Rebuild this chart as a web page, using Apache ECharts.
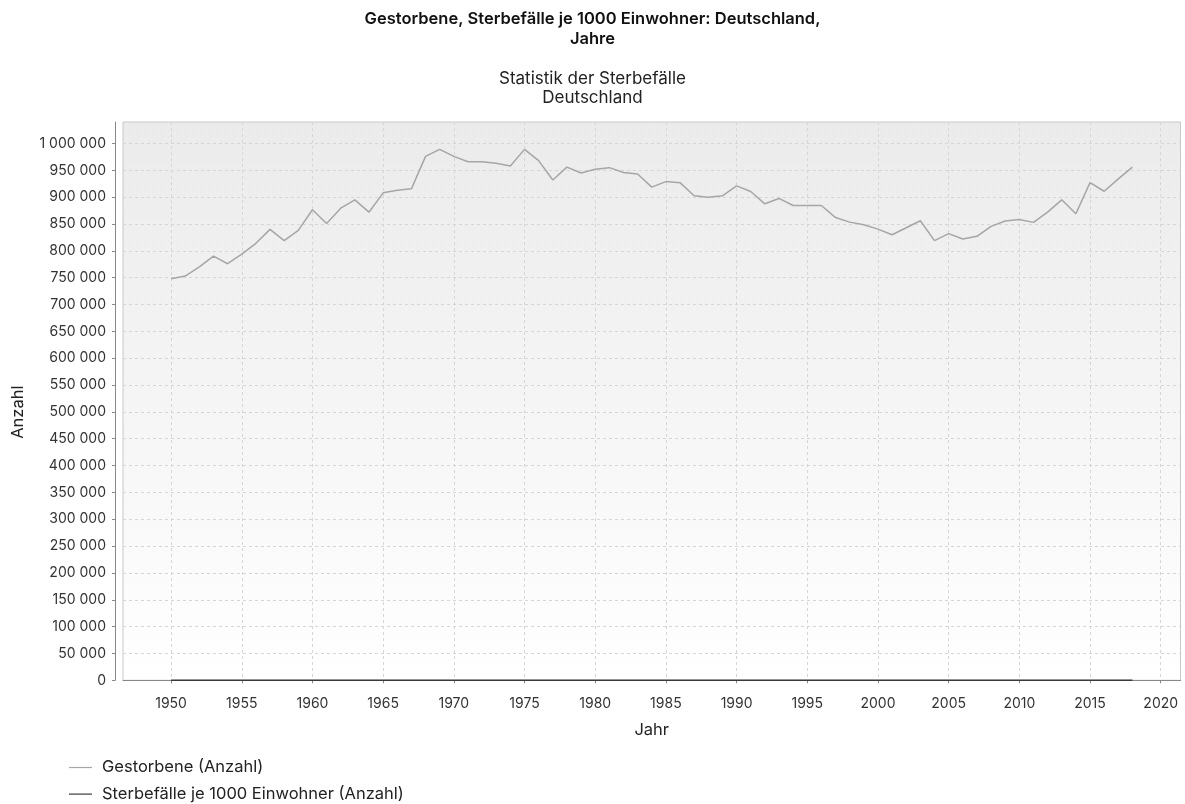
<!DOCTYPE html>
<html>
<head>
<meta charset="utf-8">
<script src="https://cdn.jsdelivr.net/npm/echarts@6/dist/echarts.min.js"></script>
<style>
html,body{margin:0;padding:0;background:#fff;}
#chart{width:1185px;height:804px;}
</style>
</head>
<body>
<div id="chart"></div>
<script>
const years = [1950,1951,1952,1953,1954,1955,1956,1957,1958,1959,
  1960,1961,1962,1963,1964,1965,1966,1967,1968,1969,
  1970,1971,1972,1973,1974,1975,1976,1977,1978,1979,
  1980,1981,1982,1983,1984,1985,1986,1987,1988,1989,
  1990,1991,1992,1993,1994,1995,1996,1997,1998,1999,
  2000,2001,2002,2003,2004,2005,2006,2007,2008,2009,
  2010,2011,2012,2013,2014,2015,2016,2017,2018];
const gestorbene = [748000,753000,770000,790000,776000,794000,814000,840000,819000,838000,
  876500,851000,879500,895000,872000,908000,913000,915500,976000,989000,
  976000,966000,966000,963000,958000,989000,968000,932000,956000,945000,
  952000,955000,946000,943000,918600,929000,927000,902500,900000,902500,
  921000,910600,887600,897600,884500,884500,884500,862000,853500,848500,
  840500,830000,843000,856000,819000,832000,822000,827000,845500,855500,
  858500,853000,872000,895000,869000,927000,911000,934000,956000];
const sterbefaelleJe1000 = [10.5,10.8,10.7,11.3,10.9,11.1,11.3,11.6,11.0,11.0,
  11.6,11.2,11.4,11.5,11.0,11.5,11.5,11.5,12.2,12.4,
  12.1,11.9,11.8,11.7,11.6,12.1,11.8,11.3,11.6,11.4,
  11.6,11.6,11.6,11.7,11.3,11.5,11.5,11.2,11.2,11.4,
  11.6,11.4,11.0,11.1,10.9,10.8,10.8,10.5,10.4,10.3,
  10.2,10.1,10.2,10.4,9.9,10.1,10.0,10.1,10.3,10.4,
  10.5,10.6,10.8,11.1,10.7,11.3,11.1,11.3,11.5];
const xTicks = [1950,1955,1960,1965,1970,1975,1980,1985,1990,1995,2000,2005,2010,2015,2020];
const yTicks = [0,50000,100000,150000,200000,250000,300000,350000,400000,450000,500000,
  550000,600000,650000,700000,750000,800000,850000,900000,950000,1000000];
const seriesNames = ['Gestorbene (Anzahl)','Sterbefälle je 1000 Einwohner (Anzahl)'];

const FONT = 'Inter';
const chart = echarts.init(document.getElementById('chart'));
const fmt = v => String(Math.round(v)).replace(/\B(?=(\d{3})+(?!\d))/g, ' ');

chart.setOption({
  animation: false,
  backgroundColor: '#ffffff',
  title: {
    text: 'Gestorbene, Sterbefälle je 1000 Einwohner: Deutschland,\nJahre',
    subtext: 'Statistik der Sterbefälle\nDeutschland',
    left: 'center', top: 9, padding: 0, itemGap: 20,
    textStyle: {fontFamily: FONT, fontWeight: 600, fontSize: 16.5, lineHeight: 20, color: '#111'},
    subtextStyle: {fontFamily: FONT, fontSize: 17, lineHeight: 19.5, color: '#222'}
  },
  legend: {
    orient: 'vertical', left: 69, top: 758.5, padding: 0,
    icon: 'rect',
    itemWidth: 23, itemHeight: 1.2, itemGap: 8.6,
    textStyle: {fontFamily: FONT, fontSize: 16.5, lineHeight: 18, color: '#222', padding: [0,0,0,5]},
    data: seriesNames
  },
  grid: {
    left: 123, top: 122, right: 4.5, bottom: 123.7,
    show: true,
    backgroundColor: {type: 'linear', x: 0, y: 0, x2: 0, y2: 1,
      colorStops: [{offset: 0, color: '#ebebeb'}, {offset: 1, color: '#ffffff'}]},
    borderColor: '#c8c8c8', borderWidth: 1
  },
  xAxis: {
    type: 'value', min: 1946.6, max: 2021.4, offset: 7,
    name: 'Jahr', nameLocation: 'middle', nameGap: 34,
    nameTextStyle: {fontFamily: FONT, fontSize: 16.5, color: '#222'},
    axisLine: {show: true, lineStyle: {color: '#888', width: 1}},
    axisTick: {show: true, length: 3, customValues: xTicks, lineStyle: {color: '#888'}},
    axisLabel: {customValues: xTicks, fontFamily: FONT, fontSize: 14, color: '#333', margin: 9,
      formatter: v => String(v)},
    splitLine: {show: true, lineStyle: {type: [3,3], color: '#d6d6d6', width: 1}}
  },
  yAxis: {
    type: 'value', min: 0, max: 1040000, offset: 8,
    name: 'Anzahl', nameLocation: 'middle', nameGap: 88, nameRotate: 90,
    nameTextStyle: {fontFamily: FONT, fontSize: 16.5, color: '#222', padding: [0, 22, 0, 0]},
    axisLine: {show: true, lineStyle: {color: '#888', width: 1}},
    axisTick: {show: true, length: 3, customValues: yTicks, lineStyle: {color: '#888'}},
    axisLabel: {customValues: yTicks, fontFamily: FONT, fontSize: 14, color: '#333', margin: 9, formatter: fmt},
    splitLine: {show: true, lineStyle: {type: [3,3], color: '#d6d6d6', width: 1}}
  },
  series: [
    {name: seriesNames[0], type: 'line', symbol: 'none', color: '#a6a6a6',
     lineStyle: {color: '#a6a6a6', width: 1.5},
     data: years.map((y, i) => [y, gestorbene[i]])},
    {name: seriesNames[1], type: 'line', symbol: 'none', color: '#3a3a3a',
     lineStyle: {color: '#3a3a3a', width: 1.5},
     data: years.map((y, i) => [y, sterbefaelleJe1000[i]])}
  ]
});
</script>
</body>
</html>
